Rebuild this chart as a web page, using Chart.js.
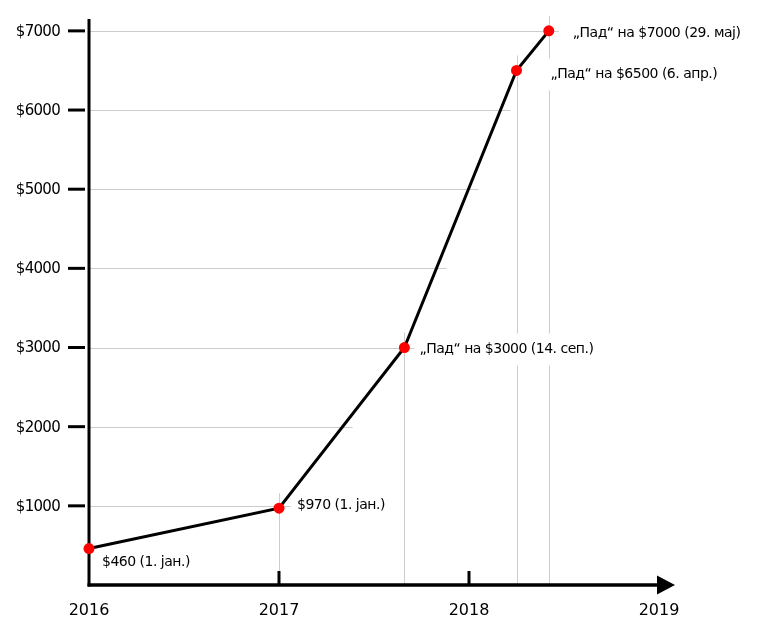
<!DOCTYPE html>
<html>
<head>
<meta charset="utf-8">
<script src="https://cdn.jsdelivr.net/npm/chart.js@4.4.1/dist/chart.umd.min.js"></script>
<style>
  html, body { margin: 0; padding: 0; background: #fff; }
</style>
</head>
<body>
<canvas id="priceChart" width="768" height="635"></canvas>
<script>
// data
const years = [2016, 2017, 2017.66, 2018.25, 2018.42];
const prices = [460, 970, 3000, 6500, 7000];
const notes = [
    '$460 (1. јан.)',
    '$970 (1. јан.)',
    '„Пад“ на $3000 (14. сеп.)',
    '„Пад“ на $6500 (6. апр.)',
    '„Пад“ на $7000 (29. мај)'
];
const yTicks = [1000, 2000, 3000, 4000, 5000, 6000, 7000];
const xTicks = [2016, 2017, 2018, 2019];
const xMarks = [2017, 2018];

// where each note sits relative to its point (px)
const noteOffsets = [[13, 14], [18, -3], [15, 2], [34, 4], [24, 2]];

const FONT = '"DejaVu Sans", sans-serif';

// year at which the curve reaches a given price
function yearAt(v) {
    for (let i = 1; i < prices.length; i++) {
        if (v <= prices[i]) {
            const t = (v - prices[i - 1]) / (prices[i] - prices[i - 1]);
            return years[i - 1] + t * (years[i] - years[i - 1]);
        }
    }
    return years[years.length - 1];
}

const guides = {
    id: 'guides',
    beforeDatasetsDraw(chart) {
        const ctx = chart.ctx;
        const xs = chart.scales.x, ys = chart.scales.y;
        const area = chart.chartArea;
        ctx.save();
        ctx.strokeStyle = '#cccccc';
        ctx.lineWidth = 1;
        // horizontal lines stop just past the curve
        yTicks.forEach(v => {
            const y = Math.round(ys.getPixelForValue(v)) + 0.5;
            const xEnd = xs.getPixelForValue(yearAt(v)) + 10;
            ctx.beginPath();
            ctx.moveTo(area.left, y);
            ctx.lineTo(xEnd, y);
            ctx.stroke();
        });
        // vertical drop lines from each point
        for (let i = 1; i < years.length; i++) {
            const x = Math.round(xs.getPixelForValue(years[i])) + 0.5;
            const y = ys.getPixelForValue(prices[i]);
            ctx.beginPath();
            ctx.moveTo(x, y - 15);
            ctx.lineTo(x, area.bottom);
            ctx.stroke();
        }

        // notes, on white so they cut the guide lines
        ctx.font = '14px ' + FONT;
        ctx.letterSpacing = '-0.5px';
        ctx.textBaseline = 'middle';
        notes.forEach((txt, i) => {
            const x = xs.getPixelForValue(years[i]) + noteOffsets[i][0];
            const y = ys.getPixelForValue(prices[i]) + noteOffsets[i][1];
            const w = ctx.measureText(txt).width;
            ctx.fillStyle = '#fff';
            ctx.fillRect(x - 3, y - 16, w + 6, 32);
            ctx.fillStyle = '#000';
            ctx.fillText(txt, x, y);
        });

        // y tick labels
        ctx.font = '15px ' + FONT;
        ctx.letterSpacing = '-0.7px';
        ctx.textAlign = 'right';
        yTicks.forEach(v => {
            ctx.fillText('$' + v, area.left - 29, ys.getPixelForValue(v) + 1);
        });
        ctx.letterSpacing = '0px';

        // axes
        ctx.strokeStyle = '#000';
        ctx.fillStyle = '#000';
        ctx.lineWidth = 3;
        ctx.beginPath();
        ctx.moveTo(area.left, area.top);
        ctx.lineTo(area.left, area.bottom + 1.5);
        ctx.stroke();

        ctx.lineWidth = 3.5;
        ctx.beginPath();
        ctx.moveTo(area.left - 1.5, area.bottom);
        ctx.lineTo(area.right - 2, area.bottom);
        ctx.stroke();
        ctx.beginPath();
        ctx.moveTo(area.right - 2, area.bottom - 9.5);
        ctx.lineTo(area.right + 16, area.bottom);
        ctx.lineTo(area.right - 2, area.bottom + 9.5);
        ctx.closePath();
        ctx.fill();

        ctx.lineWidth = 3;
        yTicks.forEach(v => {
            const y = ys.getPixelForValue(v);
            ctx.beginPath();
            ctx.moveTo(area.left - 21, y);
            ctx.lineTo(area.left - 4, y);
            ctx.stroke();
        });
        xMarks.forEach(v => {
            const x = xs.getPixelForValue(v);
            ctx.beginPath();
            ctx.moveTo(x, area.bottom - 14);
            ctx.lineTo(x, area.bottom);
            ctx.stroke();
        });
        ctx.restore();
    }
};

new Chart(document.getElementById('priceChart'), {
    type: 'line',
    data: {
        datasets: [{
            data: years.map((x, i) => ({ x: x, y: prices[i] })),
            borderColor: '#000',
            borderWidth: 3,
            tension: 0,
            pointRadius: 5.5,
            pointBackgroundColor: '#ff0000',
            pointBorderWidth: 0,
            clip: false
        }]
    },
    options: {
        responsive: false,
        animation: false,
        devicePixelRatio: 1,
        layout: { padding: { top: 19, right: 109, left: 0, bottom: 0 } },
        plugins: {
            legend: { display: false },
            tooltip: { enabled: false }
        },
        scales: {
            x: {
                type: 'linear',
                min: 2016,
                max: 2019,
                grid: { display: false, drawTicks: false },
                border: { display: false },
                afterBuildTicks: s => { s.ticks = xTicks.map(v => ({ value: v })); },
                afterFit: s => {
                    s.height = 50;
                    s.paddingLeft = 0;
                    s.paddingRight = 0;
                },
                ticks: {
                    callback: v => String(v),
                    color: '#000',
                    padding: 16,
                    maxRotation: 0,
                    font: { family: FONT, size: 16 }
                }
            },
            y: {
                min: 0,
                max: 7150,
                grid: { display: false, drawTicks: false },
                border: { display: false },
                afterBuildTicks: s => { s.ticks = yTicks.map(v => ({ value: v })); },
                afterFit: s => {
                    s.width = 89;
                    s.paddingTop = 0;
                    s.paddingBottom = 0;
                },
                ticks: { display: false }
            }
        }
    },
    plugins: [guides]
});
</script>
</body>
</html>
